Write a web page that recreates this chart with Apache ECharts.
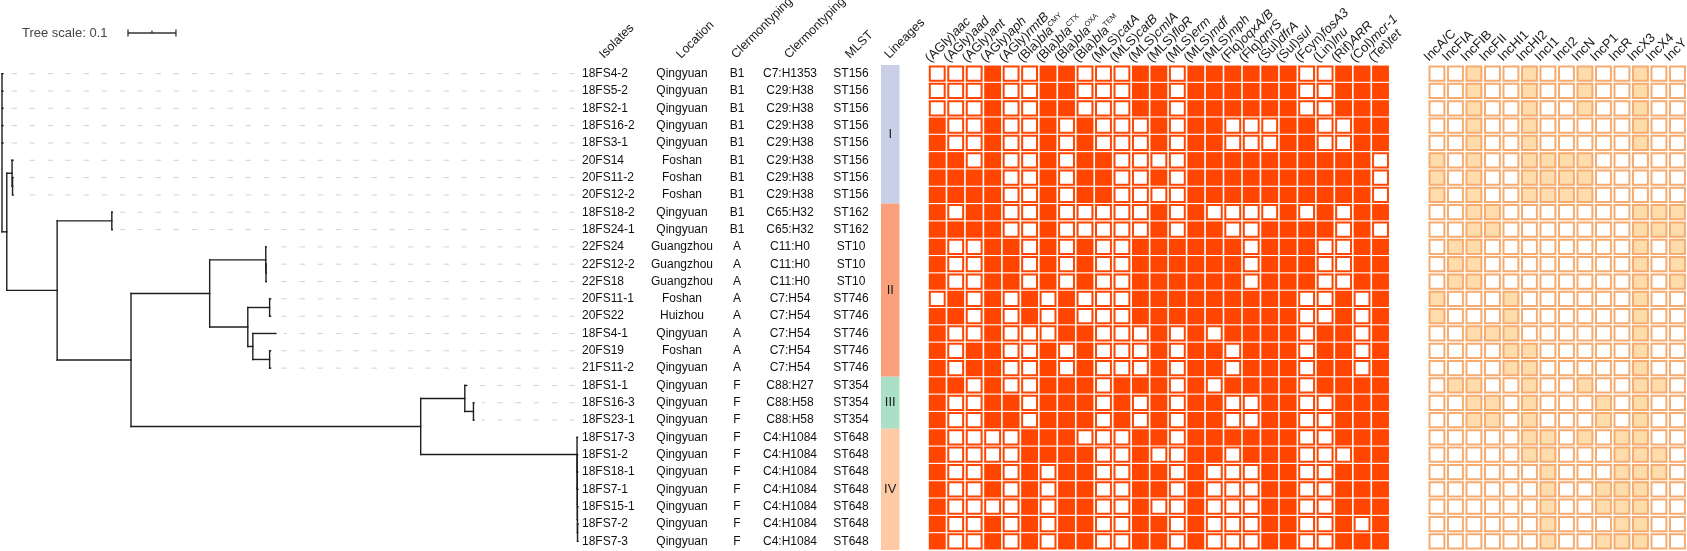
<!DOCTYPE html>
<html>
<head>
<meta charset="utf-8">
<script src="https://cdn.jsdelivr.net/npm/echarts@6/dist/echarts.min.js"></script>
<style>
html,body{margin:0;padding:0;background:#fff;}
#chart{width:1687px;height:551px;}
</style>
</head>
<body>
<div id="chart"></div>
<script>
// ---------------- DATA ----------------
const isolates = ['18FS4-2','18FS5-2','18FS2-1','18FS16-2','18FS3-1','20FS14','20FS11-2','20FS12-2',
  '18FS18-2','18FS24-1','22FS24','22FS12-2','22FS18','20FS11-1','20FS22','18FS4-1','20FS19','21FS11-2',
  '18FS1-1','18FS16-3','18FS23-1','18FS17-3','18FS1-2','18FS18-1','18FS7-1','18FS15-1','18FS7-2','18FS7-3'];
const locations = ['Qingyuan','Qingyuan','Qingyuan','Qingyuan','Qingyuan','Foshan','Foshan','Foshan',
  'Qingyuan','Qingyuan','Guangzhou','Guangzhou','Guangzhou','Foshan','Huizhou','Qingyuan','Foshan','Qingyuan',
  'Qingyuan','Qingyuan','Qingyuan','Qingyuan','Qingyuan','Qingyuan','Qingyuan','Qingyuan','Qingyuan','Qingyuan'];
const phylogroups = ['B1','B1','B1','B1','B1','B1','B1','B1','B1','B1',
  'A','A','A','A','A','A','A','A',
  'F','F','F','F','F','F','F','F','F','F'];
const clermontTypes = ['C7:H1353','C29:H38','C29:H38','C29:H38','C29:H38','C29:H38','C29:H38','C29:H38',
  'C65:H32','C65:H32','C11:H0','C11:H0','C11:H0','C7:H54','C7:H54','C7:H54','C7:H54','C7:H54',
  'C88:H27','C88:H58','C88:H58','C4:H1084','C4:H1084','C4:H1084','C4:H1084','C4:H1084','C4:H1084','C4:H1084'];
const mlstTypes = ['ST156','ST156','ST156','ST156','ST156','ST156','ST156','ST156',
  'ST162','ST162','ST10','ST10','ST10','ST746','ST746','ST746','ST746','ST746',
  'ST354','ST354','ST354','ST648','ST648','ST648','ST648','ST648','ST648','ST648'];
const columnHeaders = ['Isolates','Location','Clermontyping','Clermontyping','MLST','Lineages'];

const lineageNames = ['I','II','III','IV'];
const lineageSizes = [8, 10, 3, 7];

const resistanceGenes = ['(AGly)aac','(AGly)aad','(AGly)ant','(AGly)aph','(AGly)rmtB',
  '(Bla)bla^CMY','(Bla)bla^CTX','(Bla)bla^OXA','(Bla)bla^TEM',
  '(MLS)catA','(MLS)catB','(MLS)cmlA','(MLS)floR','(MLS)erm','(MLS)mdf','(MLS)mph',
  '(Flq)oqxA/B','(Flq)qnrS','(Sul)dfrA','(Sul)sul','(Fcyn)fosA3','(Lin)lnu','(Rif)ARR','(Col)mcr-1','(Tet)tet'];
// 1 = gene present, 0 = absent (one string per isolate, in row order)
const resistanceMatrix = [
  '0001001100011011111100111',
  '0001001100011011111100111',
  '0001001100011011111100111',
  '1001001010001011000110011',
  '1001001010001011000110011',
  '1101001011000011111111110',
  '1111001011001011111111110',
  '1111001011000011111111110',
  '1011001000001010000101011',
  '1111001000001011001111010',
  '1001101010011111101110011',
  '1001101010011111101110011',
  '1001101010011111101110011',
  '0101010100011111111100101',
  '1101010100011111111100101',
  '1001000110001010111101101',
  '1011001010001011011101101',
  '1011001010001011011101101',
  '1101001110111010111101111',
  '1001101110101011001100111',
  '1001101110101011001100111',
  '1000011100011011111100111',
  '1000011110010011011100011',
  '1001010110011010001100111',
  '1001010110011010001100111',
  '1000010110010010001100111',
  '1001010110011010001100101',
  '1001010110011010001100111'
];

const plasmidTypes = ['IncA/C','IncFIA','IncFIB','IncFII','IncHI1','IncHI2','IncI1','IncI2','IncN','IncP1','IncR','IncX3','IncX4','IncY'];
const plasmidMatrix = [
  '00100100100100',
  '00100100100100',
  '00100100100100',
  '00100100000100',
  '00100100000100',
  '10100111100000',
  '10100111100000',
  '10100111100000',
  '00110000000111',
  '00110000000111',
  '01100000000101',
  '01100000000101',
  '01100000000101',
  '10001000000100',
  '10001000000100',
  '00111000000100',
  '00001100000100',
  '00001100000100',
  '01100100100110',
  '00110100010100',
  '00110100010100',
  '00000110101100',
  '00000110001110',
  '00000010001110',
  '00000010011100',
  '00000010011100',
  '00000010001100',
  '00000010011100'
];

// phylogenetic tree (branch lengths)
const treeNewick = '(18FS4-2:0.002,18FS5-2:0.002,18FS2-1:0.002,18FS16-2:0.002,18FS3-1:0.002,' +
  '((20FS14:0.002,(20FS11-2:0.001,20FS12-2:0.001):0.001):0.011,' +
  '((18FS18-2:0.001,18FS24-1:0.001):0.114,' +
  '(((22FS24:0.001,(22FS12-2:0.0005,22FS18:0.0005):0.0005):0.117,' +
  '((20FS11-1:0.002,20FS22:0.002):0.0455,(18FS4-1:0.048,(20FS19:0.002,21FS11-2:0.002):0.035):0.0105):0.0795):0.164,' +
  '((18FS1-1:0.004,(18FS16-3:0.001,18FS23-1:0.001):0.018):0.092,' +
  '(18FS17-3:0.001,(18FS1-2:0.001,(18FS18-1:0.001,(18FS7-1:0.001,(18FS15-1:0.001,(18FS7-2:0.001,18FS7-3:0.001):0.0002):0.0002):0.0002):0.0002):0.0002):0.326):0.604):0.154):0.105):0.010);';
const treeScaleValue = 0.1;

// ---------------- STYLE / LAYOUT ----------------
const FONT = '"Liberation Sans", Arial, Helvetica, sans-serif';
const TOP = 65, HEIGHT = 485;
const RES_ON = '#FF4500', RES_LINE = '#FF4500';
const PLA_ON = '#FEDCAB', PLA_LINE = '#F6AB70';
const lineageColors = ['#C9CFE6', '#FBA07D', '#ABDFC6', '#FDCAA4'];

// ---------------- TREE PARSING / LAYOUT ----------------
function parseNewick(s) {
  let i = 0;
  function node() {
    const n = { children: [], name: '', len: 0 };
    if (s[i] === '(') {
      i++;
      n.children.push(node());
      while (s[i] === ',') { i++; n.children.push(node()); }
      i++;
    }
    let name = '';
    while (i < s.length && ',():;'.indexOf(s[i]) < 0) name += s[i++];
    n.name = name;
    if (s[i] === ':') {
      i++;
      let num = '';
      while (i < s.length && ',();'.indexOf(s[i]) < 0) num += s[i++];
      n.len = parseFloat(num);
    }
    return n;
  }
  return node();
}
const treeRoot = parseNewick(treeNewick);
const treeSegments = [];
const leaves = [];
(function lay(n, px, isRoot) {
  n.x = px + (isRoot ? 0 : n.len);
  if (!n.children.length) {
    n.y = isolates.indexOf(n.name);
    leaves.push(n);
  } else {
    n.children.forEach(c => lay(c, n.x, false));
    const a = n.children[0].y, b = n.children[n.children.length - 1].y;
    n.y = (a + b) / 2;
    treeSegments.push([n.x, a, n.x, b]);
  }
  if (!isRoot) treeSegments.push([px, n.y, n.x, n.y]);
})(treeRoot, 0, true);
const treeMax = Math.max.apply(null, leaves.map(l => l.x));
const guideSegments = leaves.filter(l => l.x < treeMax - 0.004).map(l => [treeMax, l.y, l.x, l.y]);

// ---------------- HELPERS ----------------
const nRows = isolates.length;
const grids = [], xAxes = [], yAxes = [], series = [];
function addGrid(left, width, xAxis) {
  const gi = grids.length;
  grids.push({ left: left, width: width, top: TOP, height: HEIGHT, outerBoundsMode: 'none', containLabel: false });
  xAxes.push(Object.assign({ gridIndex: gi, show: false }, xAxis));
  yAxes.push({ gridIndex: gi, type: 'value', min: -0.5, max: nRows - 0.5, inverse: true, show: false });
  return gi;
}
function richGene(label) {
  const m = label.match(/^(\([^)]*\))([^\^]*)(?:\^(.*))?$/);
  if (!m) return '{n|' + label + '}';
  let s = '{n|' + m[1] + '}{i|' + m[2] + '}';
  if (m[3]) s += '{s|' + m[3] + '}';
  return s;
}
function makeRich(fs) {
  return {
    n: { fontSize: fs, fontFamily: FONT, fill: '#1a1a1a', lineHeight: fs + 3 },
    i: { fontSize: fs, fontFamily: FONT, fontStyle: 'italic', fill: '#1a1a1a', lineHeight: fs + 3 },
    s: { fontSize: 7.5, fontFamily: FONT, fill: '#1a1a1a', verticalAlign: 'top', lineHeight: fs + 3 }
  };
}
function headerSeries(gi, labels, dx, dy, rich, fs) {
  const richStyles = makeRich(fs);
  return {
    type: 'custom', xAxisIndex: gi, yAxisIndex: gi, clip: false, silent: true,
    data: labels.map((t, i) => [i, -0.5]),
    renderItem: function (params, api) {
      const c = api.coord([api.value(0), -0.5]);
      const lab = labels[params.dataIndex];
      return {
        type: 'text', x: c[0] + dx, y: c[1] + dy, rotation: Math.PI / 4,
        style: {
          text: rich ? richGene(lab) : '{n|' + lab + '}',
          rich: richStyles, align: 'left', verticalAlign: 'bottom',
          fontSize: fs, fontFamily: FONT, fill: '#1a1a1a'
        }
      };
    }
  };
}
function textColumn(left, width, texts, header, align) {
  const gi = addGrid(left, width, { type: 'category', data: [header] });
  series.push({
    type: 'custom', xAxisIndex: gi, yAxisIndex: gi, clip: false, silent: true,
    data: texts.map((t, i) => [0, i]),
    renderItem: function (params, api) {
      const c = api.coord([0, api.value(1)]);
      const w = api.size([1, 0])[0];
      return {
        type: 'text', x: align === 'left' ? c[0] - w / 2 + 2 : c[0], y: c[1],
        style: { text: texts[params.dataIndex], align: align, verticalAlign: 'middle',
          fontSize: 12, fontFamily: FONT, fill: '#111' }
      };
    }
  });
  series.push(headerSeries(gi, [header], 2, -3, false, 12.5));
  return gi;
}
function cellSeries(gi, matrix, onFill, line, onStroke) {
  const data = [];
  matrix.forEach((row, r) => { for (let c = 0; c < row.length; c++) data.push([c, r, +row[c]]); });
  return {
    type: 'custom', xAxisIndex: gi, yAxisIndex: gi, silent: true, data: data,
    renderItem: function (params, api) {
      const c = api.coord([api.value(0), api.value(1)]);
      const s = api.size([1, 1]);
      const w = s[0], h = s[1];
      const gx = 0.8, gy = 0.55, lw = 2;
      const x0 = c[0] - w / 2 + gx, y0 = c[1] - h / 2 + gy, ww = w - 2 * gx, hh = h - 2 * gy;
      if (api.value(2) === 1 && !onStroke) {
        return { type: 'rect', shape: { x: x0, y: y0, width: ww, height: hh }, style: { fill: onFill } };
      }
      return {
        type: 'rect',
        shape: { x: x0 + lw / 2, y: y0 + lw / 2, width: ww - lw, height: hh - lw },
        style: { fill: api.value(2) === 1 ? onFill : '#fff', stroke: line, lineWidth: lw }
      };
    }
  };
}

// ---------------- TREE GRID ----------------
const gTree = addGrid(2, 576, { type: 'value', min: 0, max: treeMax });
series.push({
  type: 'custom', xAxisIndex: gTree, yAxisIndex: gTree, silent: true, z: 1, data: guideSegments,
  renderItem: function (params, api) {
    const p0 = api.coord([api.value(0), api.value(1)]), p1 = api.coord([api.value(2), api.value(3)]);
    return { type: 'line', shape: { x1: p0[0] - 3, y1: p0[1], x2: p1[0] + 8, y2: p1[1] },
      style: { stroke: '#d2d2d2', lineWidth: 1, lineDash: [5.5, 12.5] } };
  }
});
series.push({
  type: 'custom', xAxisIndex: gTree, yAxisIndex: gTree, silent: true, z: 3, data: treeSegments,
  renderItem: function (params, api) {
    const p0 = api.coord([api.value(0), api.value(1)]), p1 = api.coord([api.value(2), api.value(3)]);
    return { type: 'line', shape: { x1: p0[0], y1: p0[1], x2: p1[0], y2: p1[1] },
      style: { stroke: '#1e1e1e', lineWidth: 1.4, lineCap: 'square' } };
  }
});
// tree scale bar
series.push({
  type: 'custom', xAxisIndex: gTree, yAxisIndex: gTree, silent: true, clip: false,
  data: [[treeScaleValue, 0]],
  renderItem: function (params, api) {
    const len = api.size([api.value(0), 0])[0];
    const x0 = 128, y0 = 33;
    const st = { stroke: '#333', lineWidth: 1.3 };
    return {
      type: 'group',
      children: [
        { type: 'text', x: 22, y: y0, style: { text: 'Tree scale: ' + api.value(0), align: 'left', verticalAlign: 'middle',
          fontSize: 13, fontFamily: FONT, fill: '#444' } },
        { type: 'line', shape: { x1: x0, y1: y0, x2: x0 + len, y2: y0 }, style: st },
        { type: 'line', shape: { x1: x0, y1: y0 - 3.5, x2: x0, y2: y0 + 3.5 }, style: st },
        { type: 'line', shape: { x1: x0 + len, y1: y0 - 3.5, x2: x0 + len, y2: y0 + 3.5 }, style: st },
        { type: 'line', shape: { x1: x0 + len / 2, y1: y0 - 2.5, x2: x0 + len / 2, y2: y0 }, style: st }
      ]
    };
  }
});

// ---------------- TEXT COLUMNS ----------------
textColumn(580, 50, isolates, columnHeaders[0], 'left');
textColumn(654, 56, locations, columnHeaders[1], 'center');
textColumn(719, 36, phylogroups, columnHeaders[2], 'center');
textColumn(762, 56, clermontTypes, columnHeaders[3], 'center');
textColumn(831, 40, mlstTypes, columnHeaders[4], 'center');

// ---------------- LINEAGES ----------------
const gLin = addGrid(881, 18.5, { type: 'category', data: [columnHeaders[5]] });
const lineageData = [];
(function () { let s = 0; lineageSizes.forEach((n, i) => { lineageData.push([0, s, s + n - 1, i]); s += n; }); })();
series.push({
  type: 'custom', xAxisIndex: gLin, yAxisIndex: gLin, silent: true, data: lineageData,
  renderItem: function (params, api) {
    const a = api.coord([0, api.value(1) - 0.5]), b = api.coord([0, api.value(2) + 0.5]);
    const w = api.size([1, 0])[0];
    const idx = api.value(3);
    return {
      type: 'group', children: [
        { type: 'rect', shape: { x: a[0] - w / 2, y: a[1], width: w, height: b[1] - a[1] }, style: { fill: lineageColors[idx] } },
        { type: 'text', x: a[0], y: (a[1] + b[1]) / 2, style: { text: lineageNames[idx], align: 'center', verticalAlign: 'middle',
          fontSize: 13, fontFamily: FONT, fill: '#1a1a1a' } }
      ]
    };
  }
});
series.push(headerSeries(gLin, [columnHeaders[5]], 2, -3, false, 12.5));

// ---------------- RESISTANCE HEATMAP ----------------
const gRes = addGrid(928, 461.75, { type: 'category', data: resistanceGenes });
series.push(cellSeries(gRes, resistanceMatrix, RES_ON, RES_LINE, false));
series.push(headerSeries(gRes, resistanceGenes, -4, 1, true, 13));

// ---------------- PLASMID HEATMAP ----------------
const gPla = addGrid(1427.7, 259, { type: 'category', data: plasmidTypes });
series.push(cellSeries(gPla, plasmidMatrix, PLA_ON, PLA_LINE, true));
series.push(headerSeries(gPla, plasmidTypes, -5, 0, false, 13));

const chart = echarts.init(document.getElementById('chart'), null, { renderer: 'canvas' });
chart.setOption({
  animation: false,
  backgroundColor: '#fff',
  grid: grids, xAxis: xAxes, yAxis: yAxes, series: series
});
</script>
</body>
</html>
